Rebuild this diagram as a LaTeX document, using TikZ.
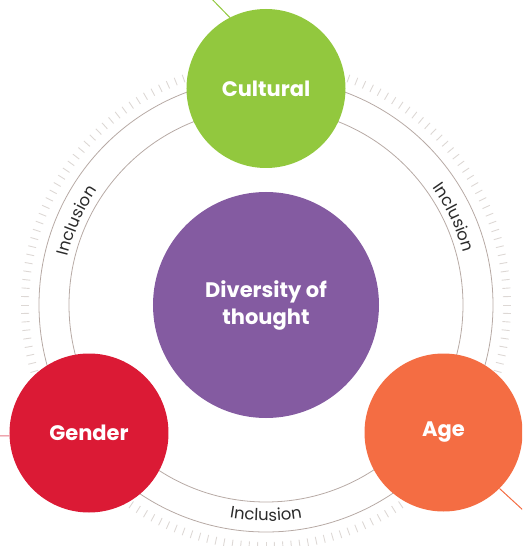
\documentclass[tikz,border=0pt]{standalone}
\usepackage{fontspec}
\setmainfont{Poppins}
\usetikzlibrary{decorations.text}
\definecolor{cgreen}{HTML}{92C83E}
\definecolor{cred}{HTML}{DB1A35}
\definecolor{corange}{HTML}{F46D43}
\definecolor{cpurple}{HTML}{845BA1}
\definecolor{cring}{HTML}{B7AAA5}
\definecolor{ctick}{HTML}{DDD8D5}
\definecolor{ctext}{HTML}{2B2B2B}
\definecolor{cpink}{HTML}{E67582}
\begin{document}
\begin{tikzpicture}[x=1pt,y=1pt,
  bubble/.style={circle, inner sep=0pt, text=white, font=\fontsize{21}{27}\selectfont\bfseries, align=center},
  ring/.style={draw=cring, line width=0.8pt},
  ticklines/.style={draw=ctick, line width=0.9pt},
  inclabel/.style={decorate, decoration={text along path, text align=center, text color=ctext,
     text={|\fontsize{16.5}{16.5}\selectfont|Inclusion}}}
]
\useasboundingbox (-266,-241) rectangle (256,305);
\clip (-266,-241) rectangle (256,305);
\foreach \a in {0,2,...,358} \draw[ticklines] (\a:237) -- (\a:245);
\draw[ring] (0,0) circle[radius=197];
\draw[ring] (0,0) circle[radius=227];
\path[inclabel] (176:204) arc[start angle=176, end angle=136, radius=204];
\path[inclabel] (45:204) arc[start angle=45, end angle=5, radius=204];
\path[inclabel] (250:216) arc[start angle=250, end angle=290, radius=216];
\node[bubble, fill=cpurple, minimum size=226] (div) at (0,0) {Diversity of\\thought};
\node[bubble, fill=cgreen, minimum size=159] (cult) at (0,216.5) {Cultural};
\node[bubble, fill=cred, minimum size=159] (gen) at (-177,-128) {Gender};
\node[bubble, fill=corange, minimum size=158] (age) at (177.5,-127.5) {Age};
\coordinate (cultend) at (-60,312);
\coordinate (genend) at (-290,-131);
\coordinate (ageend) at (270,-217);
\draw[cgreen, line width=1pt] (cult.117.4) -- (cultend);
\draw[cpink, line width=1pt] (gen.182.2) -- (genend);
\draw[corange, line width=1pt] (age.-45) -- (ageend);
\end{tikzpicture}
\end{document}
